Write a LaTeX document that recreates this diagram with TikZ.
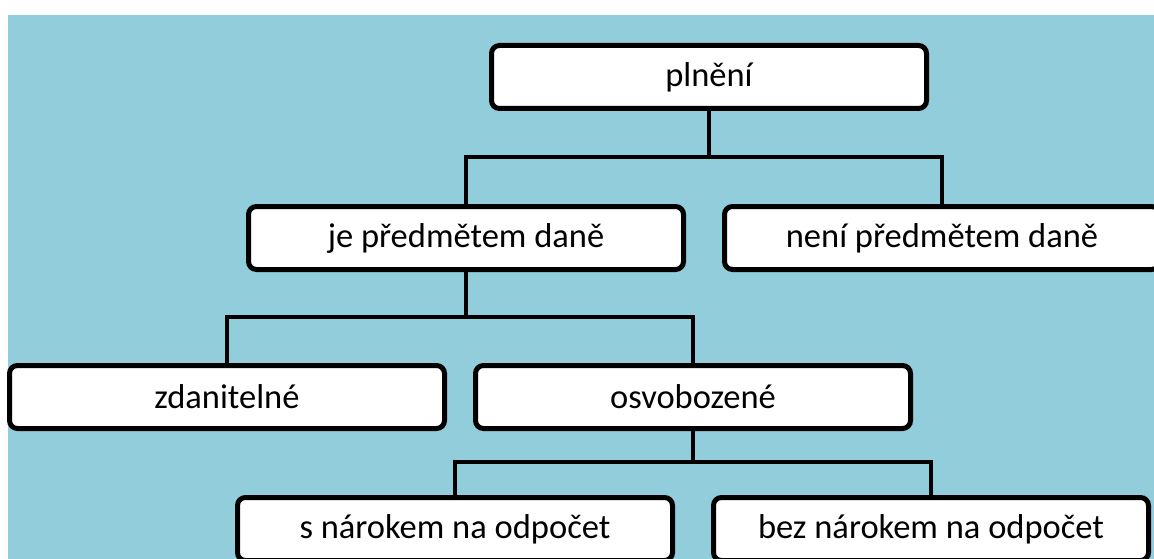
\documentclass[tikz,border=0pt]{standalone}
\usepackage{fontspec}
\setmainfont{Carlito}
\definecolor{bgblue}{HTML}{92CDDC}
\begin{document}
\begin{tikzpicture}[x=1pt,y=-1pt,
  treebox/.style={draw=black, line width=5pt, fill=white, rounded corners=8pt,
    minimum width=435pt, minimum height=63pt, inner sep=0pt,
    font=\fontsize{34.5}{40}\selectfont},
  link/.style={draw=black, line width=4.8pt, line join=miter}]
\useasboundingbox (0,0) rectangle (1154,559);
\clip (0,0) rectangle (1154,559);
\fill[bgblue] (8,15) rectangle (1160,565);
% nodes
\node[treebox] (pl) at (709,77) {plnění};
\node[treebox] (je) at (466,238) {je předmětem daně};
\node[treebox] (ne) at (942,238) {není předmětem daně};
\node[treebox] (zd) at (227,397) {zdanitelné};
\node[treebox] (os) at (693,397) {osvobozené};
\node[treebox] (sn) at (455,529) {s nárokem na odpočet};
\node[treebox] (bn) at (931,529) {bez nárokem na odpočet};
% junctions
\coordinate (j1) at (709,157);
\coordinate (j2) at (466,317);
\coordinate (j3) at (693,462);
% connectors
\draw[link] (pl.south) -- (j1);
\draw[link] (je.north) |- (j1) -| (ne.north);
\draw[link] (je.south) -- (j2);
\draw[link] (zd.north) |- (j2) -| (os.north);
\draw[link] (os.south) -- (j3);
\draw[link] (sn.north) |- (j3) -| (bn.north);
\end{tikzpicture}
\end{document}
